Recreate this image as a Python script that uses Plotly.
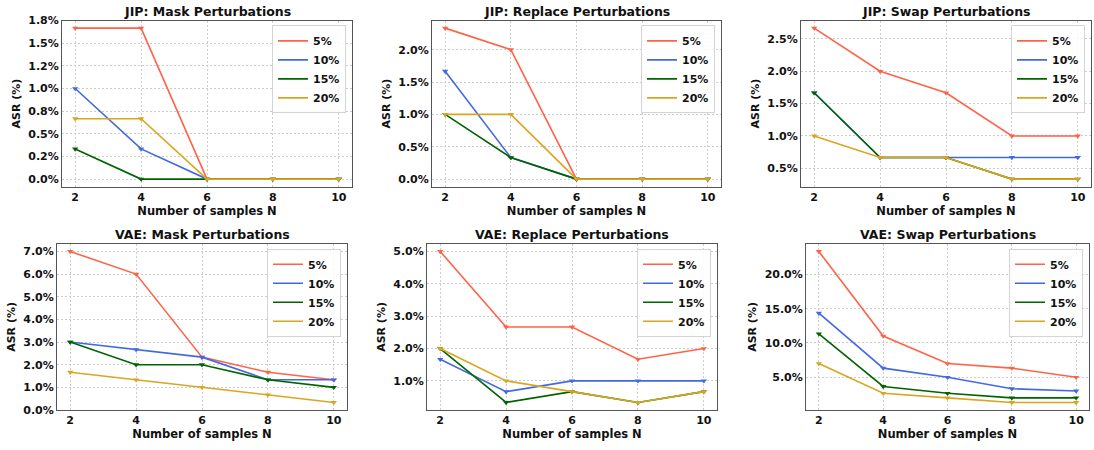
import plotly.graph_objects as go
from plotly.subplots import make_subplots

N = [2, 4, 6, 8, 10]
levels = ["5%", "10%", "15%", "20%"]
colors = ["#FF6347", "#4169E1", "#006400", "#DAA520"]

titles = ["JIP: Mask Perturbations", "JIP: Replace Perturbations", "JIP: Swap Perturbations",
          "VAE: Mask Perturbations", "VAE: Replace Perturbations", "VAE: Swap Perturbations"]

# ASR (%) values, one list per perturbation level (5%, 10%, 15%, 20%)
jip_mask_5 = [1.667, 1.667, 0, 0, 0]
jip_mask_10 = [1.0, 0.333, 0, 0, 0]
jip_mask_15 = [0.333, 0, 0, 0, 0]
jip_mask_20 = [0.667, 0.667, 0, 0, 0]

jip_replace_5 = [2.333, 2.0, 0, 0, 0]
jip_replace_10 = [1.667, 0.333, 0, 0, 0]
jip_replace_15 = [1.0, 0.333, 0, 0, 0]
jip_replace_20 = [1.0, 1.0, 0, 0, 0]

jip_swap_5 = [2.667, 2.0, 1.667, 1.0, 1.0]
jip_swap_10 = [1.667, 0.667, 0.667, 0.667, 0.667]
jip_swap_15 = [1.667, 0.667, 0.667, 0.333, 0.333]
jip_swap_20 = [1.0, 0.667, 0.667, 0.333, 0.333]

vae_mask_5 = [7.0, 6.0, 2.333, 1.667, 1.333]
vae_mask_10 = [3.0, 2.667, 2.333, 1.333, 1.333]
vae_mask_15 = [3.0, 2.0, 2.0, 1.333, 1.0]
vae_mask_20 = [1.667, 1.333, 1.0, 0.667, 0.333]

vae_replace_5 = [5.0, 2.667, 2.667, 1.667, 2.0]
vae_replace_10 = [1.667, 0.667, 1.0, 1.0, 1.0]
vae_replace_15 = [2.0, 0.333, 0.667, 0.333, 0.667]
vae_replace_20 = [2.0, 1.0, 0.667, 0.333, 0.667]

vae_swap_5 = [23.333, 11.0, 7.0, 6.333, 5.0]
vae_swap_10 = [14.333, 6.333, 5.0, 3.333, 3.0]
vae_swap_15 = [11.333, 3.667, 2.667, 2.0, 2.0]
vae_swap_20 = [7.0, 2.667, 2.0, 1.333, 1.333]

panels = [
    [jip_mask_5, jip_mask_10, jip_mask_15, jip_mask_20],
    [jip_replace_5, jip_replace_10, jip_replace_15, jip_replace_20],
    [jip_swap_5, jip_swap_10, jip_swap_15, jip_swap_20],
    [vae_mask_5, vae_mask_10, vae_mask_15, vae_mask_20],
    [vae_replace_5, vae_replace_10, vae_replace_15, vae_replace_20],
    [vae_swap_5, vae_swap_10, vae_swap_15, vae_swap_20],
]

yticks = [
    [0, 0.25, 0.5, 0.75, 1.0, 1.25, 1.5, 1.75],
    [0, 0.5, 1.0, 1.5, 2.0],
    [0.5, 1.0, 1.5, 2.0, 2.5],
    [0, 1, 2, 3, 4, 5, 6, 7],
    [1, 2, 3, 4, 5],
    [5, 10, 15, 20],
]

W, H = 1094, 450
# pixel boxes of each axes: (left, right, top, bottom)
boxes = [(62, 352, 15, 186), (432, 721, 15, 186), (801, 1091, 15, 186),
         (57, 347, 245, 416), (427, 717, 245, 416), (806, 1089, 245, 416)]

fig = make_subplots(rows=2, cols=3)
FONT = "DejaVu Sans"

for p, series in enumerate(panels):
    r, c = p // 3 + 1, p % 3 + 1
    leg = "legend" if p == 0 else f"legend{p + 1}"
    for i, ys in enumerate(series):
        fig.add_trace(go.Scatter(x=N, y=ys, mode="lines", name=levels[i],
                                 line=dict(color=colors[i], width=1.6),
                                 legend=leg, showlegend=True), row=r, col=c)
        fig.add_trace(go.Scatter(x=N, y=ys, mode="markers", name=levels[i],
                                 marker=dict(symbol="triangle-down", size=5.5, color=colors[i]),
                                 legend=leg, showlegend=False, hoverinfo="skip"), row=r, col=c)

    # y range with matplotlib-like 5% margins
    allv = [v for s in series for v in s]
    lo, hi = min(allv), max(allv)
    pad = (hi - lo) * 0.05
    L, R, T, B = boxes[p]
    xs = "" if p == 0 else str(p + 1)
    fig.layout[f"xaxis{xs}"].update(
        domain=[L / W, R / W], range=[1.6, 10.4], tickvals=N,
        title=dict(text="Number of samples N", font=dict(family=FONT, size=11.5, weight="bold", color="#111"), standoff=0),
    )
    fig.layout[f"yaxis{xs}"].update(
        domain=[1 - B / H, 1 - T / H], range=[lo - pad, hi + pad],
        tickvals=yticks[p], ticktext=[f"{v:.1f}%" for v in yticks[p]],
        title=dict(text="ASR (%)", font=dict(family=FONT, size=11, weight="bold", color="#111"), standoff=5),
    )
    fig.add_annotation(text=titles[p], xref="paper", yref="paper",
                       x=(L + R) / 2 / W, y=1 - T / H, xanchor="center", yanchor="bottom",
                       showarrow=False, font=dict(family=FONT, size=12.5, weight="bold", color="#111"))
    fig.layout[leg] = dict(
        x=(R - 6) / W, y=1 - (T + 5) / H, xanchor="right", yanchor="top",
        bgcolor="rgba(255,255,255,0.85)", bordercolor="#d4d4d4", borderwidth=1,
        font=dict(family=FONT, size=11, weight="bold", color="#111"),
        tracegroupgap=0, itemwidth=30,
    )

common = dict(showline=True, mirror=True, linecolor="#555", linewidth=1,
              showgrid=True, gridcolor="#cccccc", griddash="2px,2px", gridwidth=0.8,
              ticks="", zeroline=False,
              tickfont=dict(family=FONT, size=11, weight="bold", color="#111"))
fig.update_xaxes(**common)
fig.update_yaxes(**common)

fig.update_layout(width=W, height=H, margin=dict(l=0, r=0, t=0, b=0),
                  plot_bgcolor="white", paper_bgcolor="white",
                  font=dict(family=FONT, size=11, color="#111"))

fig.write_html("out.html")
